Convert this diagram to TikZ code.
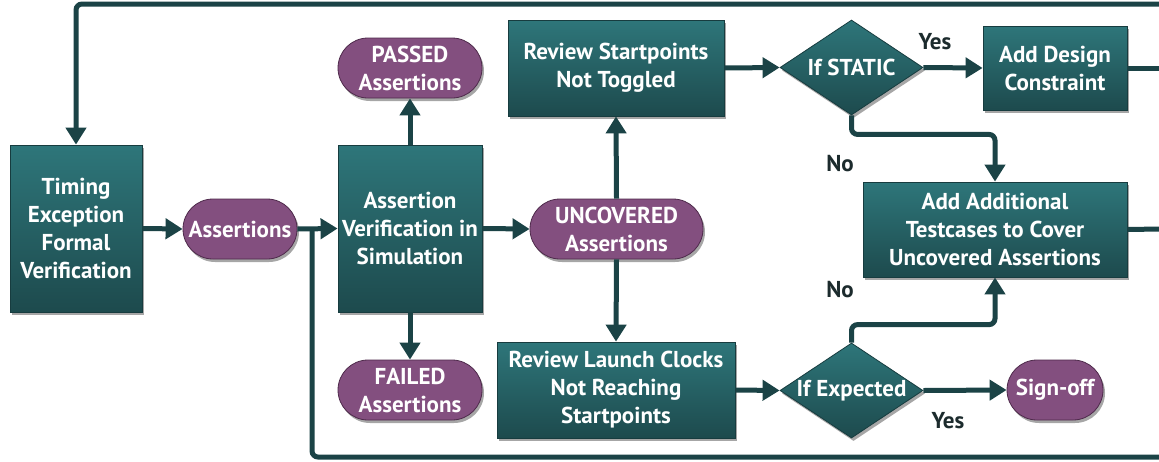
\documentclass[tikz,border=0pt]{standalone}
\usepackage{fontspec}
\setmainfont{PT Sans}
\usetikzlibrary{shapes.geometric,shadows,arrows.meta}
\definecolor{tealtop}{HTML}{2E767A}
\definecolor{tealbot}{HTML}{1D4A4D}
\definecolor{tealedge}{HTML}{173C3F}
\definecolor{linec}{HTML}{1B4346}
\definecolor{purp}{HTML}{834F7F}
\definecolor{purpedge}{HTML}{4E2A4B}
\definecolor{labc}{HTML}{1C2B2D}
\tikzset{
  base/.style={font=\bfseries\fontsize{23}{28}\selectfont, text=white, align=center, inner sep=1pt,
    drop shadow={shadow xshift=2pt, shadow yshift=-3pt, opacity=0.35, fill=black}},
  procbox/.style={base, rectangle, draw=tealedge, line width=0.8pt, top color=tealtop, bottom color=tealbot},
  pill/.style={base, rectangle, rounded corners=30pt, draw=purpedge, line width=0.8pt, fill=purp},
  decide/.style={base, diamond, draw=tealedge, line width=0.8pt, top color=tealtop, bottom color=tealbot, inner sep=0pt, aspect=1.5},
  conn/.style={draw=linec, line width=5pt, rounded corners=6pt},
  arr/.style={conn, -{Triangle[length=17pt,width=20pt]}},
  lab/.style={font=\bfseries\fontsize{23}{25}\selectfont, text=labc}
}
\begin{document}
\begin{tikzpicture}[x=1pt,y=-1pt]
\useasboundingbox (0,0) rectangle (1159,461);
\fill[white] (0,0) rectangle (1159,461);

\node[procbox, minimum width=132pt, minimum height=167pt] (tef) at (76,228.5) {Timing\\Exception\\Formal\\Verification};
\node[pill, minimum width=114pt, minimum height=60pt] (asr) at (240,229) {Assertions};
\node[procbox, minimum width=144pt, minimum height=167pt] (avs) at (410,228.5) {Assertion\\Verification in\\Simulation};
\node[pill, minimum width=144pt, minimum height=60pt] (pas) at (410,68) {PASSED\\Assertions};
\node[pill, minimum width=144pt, minimum height=60pt] (fai) at (410,390) {FAILED\\Assertions};
\node[pill, minimum width=173pt, minimum height=60pt] (unc) at (616.5,229) {UNCOVERED\\Assertions};
\node[procbox, minimum width=216pt, minimum height=96pt] (rsp) at (616,68) {Review Startpoints\\Not Toggled};
\node[procbox, minimum width=238pt, minimum height=96pt] (rlc) at (616,390) {Review Launch Clocks\\Not Reaching\\Startpoints};
\node[decide, minimum width=143pt, minimum height=95pt] (ifs) at (851.5,67.5) {If STATIC};
\node[decide, minimum width=143pt, minimum height=95pt] (ife) at (851.5,390.5) {If Expected};
\node[procbox, minimum width=144pt, minimum height=84pt] (adc) at (1055,68) {Add Design\\Constraint};
\node[procbox, minimum width=264pt, minimum height=95pt] (aat) at (995,229.5) {Add Additional\\Testcases to Cover\\Uncovered Assertions};
\node[pill, minimum width=96pt, minimum height=60pt] (sgn) at (1055,390) {Sign-off};

\node[lab] (y1) at (935,42) {Yes};
\node[lab] (n1) at (840,164) {No};
\node[lab] (n2) at (840,290) {No};
\node[lab] (y2) at (948,421) {Yes};

\coordinate (rtop) at (1160,4);
\coordinate (rbot) at (1160,457);
\coordinate (r1) at (1160,68);
\coordinate (r2) at (1160,229);
\coordinate (join) at (312,229);

\draw[arr] (tef.east) -- (asr.west);
\draw[arr] (asr.east) -- (avs.west);
\draw[arr] (avs.north) -- (pas.south);
\draw[arr] (avs.south) -- (fai.north);
\draw[arr] (avs.east) -- (unc.west);
\draw[arr] (unc.north) -- (rsp.south);
\draw[arr] (unc.south) -- (rlc.north);
\draw[arr] (rsp.east) -- (ifs.west);
\draw[arr] (rlc.east) -- (ife.west);
\draw[arr] (ifs.east) -- (adc.west);
\draw[arr] (ife.east) -- (sgn.west);
\draw[arr] (ifs.south) -- ++(0,19) -| (aat.north);
\draw[arr] (ife.north) -- ++(0,-18) -| (aat.south);
\draw[conn] (adc.east) -- (r1);
\draw[conn] (aat.east) -- (r2);
\draw[arr] (rtop) -| (tef.north);
\draw[conn] (rbot) -| (join);
\end{tikzpicture}
\end{document}
